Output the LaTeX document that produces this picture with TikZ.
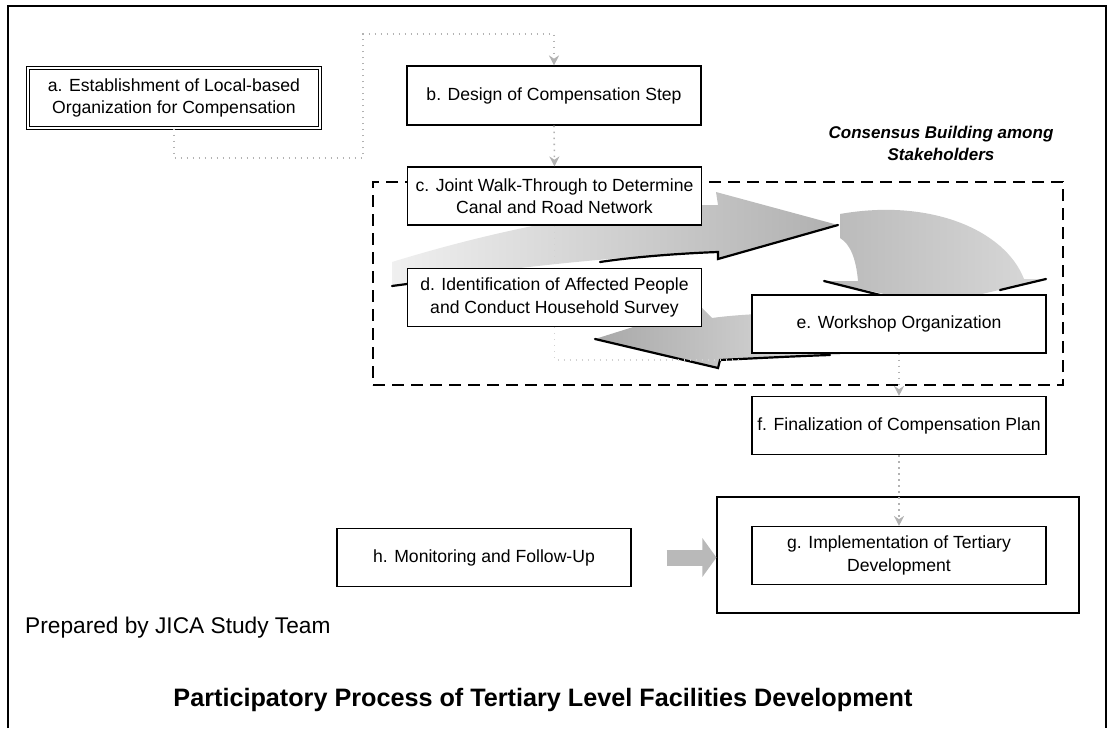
\documentclass[tikz,border=0pt]{standalone}
\usepackage{fontspec}
\setmainfont{Liberation Sans}
\usetikzlibrary{arrows.meta,backgrounds}

\begin{document}
\begin{tikzpicture}[x=1pt, y=-1pt,
  stage/.style={draw, line width=1.1pt, fill=white, inner sep=0pt, align=center,
    minimum width=294pt, minimum height=58pt, font=\fontsize{17.6}{22.5}\selectfont},
  dblstage/.style={stage, double, double distance=1.8pt, line width=1.2pt,
    minimum width=292pt, minimum height=60pt},
  flowdots/.style={gray!60, line width=1.6pt, dash pattern=on 1.6pt off 4.4pt,
    -{Stealth[length=10pt, width=10pt]}},
  faintdots/.style={gray!35, line width=1.2pt, dash pattern=on 1.2pt off 4.8pt},
  darkedge/.style={line width=2.2pt, line cap=round},
  consframe/.style={draw, line width=1.4pt, dash pattern=on 12pt off 7pt,
    minimum width=690pt, minimum height=203pt, inner sep=0pt}]
\useasboundingbox (0,0) rectangle (1108,728);
\draw[line width=1.5pt] (8,728) -- (8,6) -- (1106,6) -- (1106,728);

\node[dblstage] (a) at (174,98) {a. Establishment of Local-based\\Organization for Compensation};
\node[stage, minimum height=59pt] (b) at (554,95.5) {b. Design of Compensation Step};
\node[stage] (c) at (554.5,196) {c. Joint Walk-Through to Determine\\Canal and Road Network};
\node[stage] (d) at (554.5,297.5) {d. Identification of Affected People\\and Conduct Household Survey};
\node[stage] (e) at (899,324) {e. Workshop Organization};
\node[stage] (f) at (899,425.5) {f. Finalization of Compensation Plan};
\node[draw, line width=1.1pt, minimum width=362pt, minimum height=116pt] (gout) at (898,555) {};
\node[stage] (g) at (899,555.5) {g. Implementation of Tertiary\\Development};
\node[stage] (h) at (484,557.5) {h. Monitoring and Follow-Up};

\node[font=\fontsize{17}{22}\selectfont\bfseries\itshape, align=center] (cblabel) at (941,143)
  {Consensus Building among\\Stakeholders};
\node[anchor=west, inner sep=0pt, font=\fontsize{22.7}{27}\selectfont] (src) at (25,628)
  {Prepared by JICA Study Team};
\node[inner sep=0pt, font=\fontsize{25.2}{30}\selectfont\bfseries] (ttl) at (543,700)
  {Participatory Process of Tertiary Level Facilities Development};

\begin{scope}[on background layer]
  \node[consframe] (cons) at (718,283.5) {};
  % cycle of consensus arrows
  \shade[left color=gray!12, right color=gray!62]
    (392,262) .. controls (470,238) and (600,205) .. (718,205) -- (716,192) -- (838,225)
    -- (718,259) -- (718,252) .. controls (620,256) and (500,268) .. (392,286) -- cycle;
  \shade[left color=gray!55, right color=gray!30]
    (840,214) .. controls (930,198) and (1005,230) .. (1024,279) -- (1046,279) -- (935,305)
    -- (824,281) -- (858,281) .. controls (856,258) and (850,244) .. (840,238) -- cycle;
  \shade[left color=gray!68, right color=gray!25]
    (840,312) .. controls (790,312) and (740,314) .. (712,318) -- (700,306) -- (595,339)
    -- (718,368) -- (720,360) .. controls (760,358) and (800,356) .. (840,355) -- cycle;
  \draw[darkedge] (392,286) -- (407,284);
  \draw[darkedge] (600,262) .. controls (640,256) and (690,253) .. (718,252) -- (718,259) -- (838,225);
  \draw[darkedge] (824,281) -- (880,295);
  \draw[darkedge] (1046,279) -- (1000,290);
  \draw[darkedge] (595,339) -- (718,368) -- (720,360) .. controls (760,358) and (800,356) .. (830,355);
  \draw[faintdots] (c.south) -- (d.north);
  \draw[faintdots] (d.south) |- (740,360);
\end{scope}

\draw[flowdots] (a.south) |- (363,158) |- (b.north |- 0,34) -- (b.north);
\draw[flowdots] (b.south) -- (c.north);
\draw[flowdots] (e.south) -- (f.north);
\draw[flowdots] (f.south) -- (g.north);
\draw[gray!55, line width=16pt, -{Triangle[length=14pt, width=38pt]}]
  ([xshift=35pt]h.east) -- (h.east -| gout.west);
\end{tikzpicture}
\end{document}
